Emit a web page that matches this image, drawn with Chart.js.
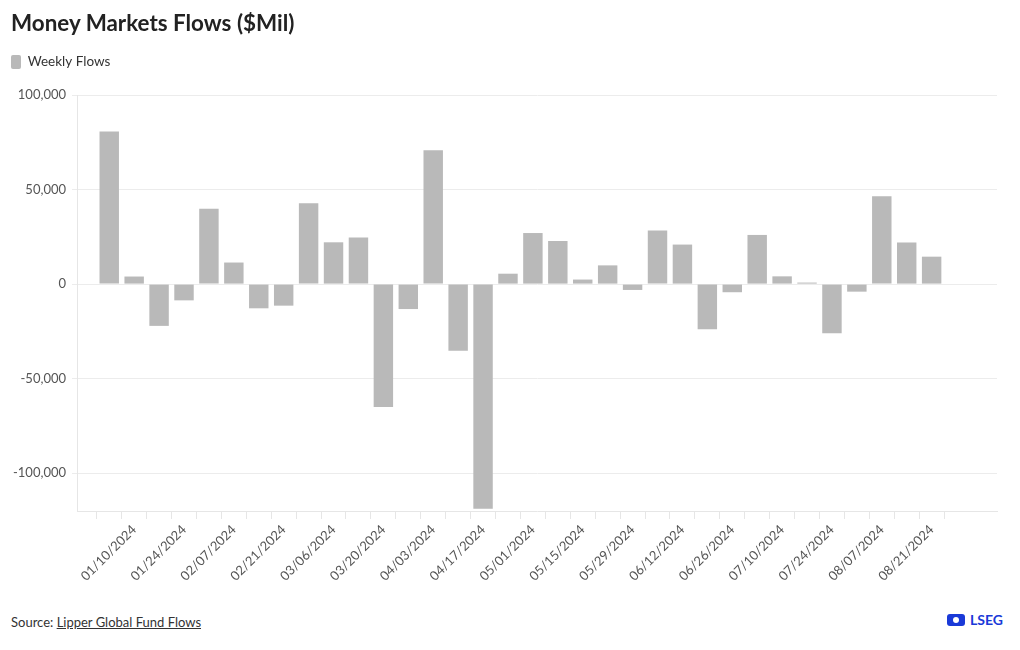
<!DOCTYPE html>
<html>
<head>
<meta charset="utf-8">
<script src="https://cdn.jsdelivr.net/npm/chart.js@4"></script>
<style>
  body { margin: 0; background: #fff; font-family: Lato, "Open Sans", sans-serif; color: #333; }
  #wrap { position: absolute; left: 0; top: 0; width: 1020px; height: 600px; }
  #title { position: absolute; left: 11px; top: 9px; font-size: 22.4px; font-weight: 700; color: #222; }
  #source { position: absolute; left: 11px; top: 614px; font-size: 13px; color: #333; }
  #source a { color: #333; text-decoration: underline; }
  #logo { position: absolute; left: 946px; top: 611px; font-size: 14px; font-weight: 700; color: #1a3ad8; display: flex; align-items: center; gap: 4px; }
</style>
</head>
<body>
<div id="wrap"><canvas id="flowsChart"></canvas></div>
<div id="title">Money Markets Flows ($Mil)</div>
<div id="source">Source: <a>Lipper Global Fund Flows</a></div>
<div id="logo"><svg width="20" height="14" viewBox="0 0 20 14"><rect x="1" y="1" width="18" height="12" rx="3" fill="#1a3ad8"/><circle cx="10" cy="7" r="3" fill="#fff"/></svg>LSEG</div>
<script>
const weeks = [
  "01/03/2024", "01/10/2024", "01/17/2024", "01/24/2024", "01/31/2024", "02/07/2024",
  "02/14/2024", "02/21/2024", "02/28/2024", "03/06/2024", "03/13/2024", "03/20/2024",
  "03/27/2024", "04/03/2024", "04/10/2024", "04/17/2024", "04/24/2024", "05/01/2024",
  "05/08/2024", "05/15/2024", "05/22/2024", "05/29/2024", "06/05/2024", "06/12/2024",
  "06/19/2024", "06/26/2024", "07/03/2024", "07/10/2024", "07/17/2024", "07/24/2024",
  "07/31/2024", "08/07/2024", "08/14/2024", "08/21/2024"
];
const weeklyFlows = [
  80700, 4000, -22100, -8600, 39900, 11400,
  -12800, -11400, 42700, 22100, 24600, -65000,
  -13200, 70800, -35300, -118800, 5500, 27000,
  22800, 2400, 9900, -3100, 28300, 20900,
  -23900, -4300, 26000, 4100, 800, -26000,
  -4000, 46500, 22000, 14500
];
const yTicks = [-100000, -50000, 0, 50000, 100000];

const points = weeklyFlows.map((v, i) => ({ x: i, y: v }));

// extra space under the legend
const legendGap = {
  id: "legendGap",
  beforeInit(chart) {
    const fit = chart.legend.fit;
    chart.legend.fit = function () {
      fit.bind(chart.legend)();
      this.height += 16;
    };
  }
};

new Chart(document.getElementById("flowsChart"), {
  type: "bar",
  data: {
    datasets: [{
      label: "Weekly Flows",
      data: points,
      backgroundColor: "#b9b9b9",
      borderWidth: 0,
      barPercentage: 0.78,
      categoryPercentage: 1
    }]
  },
  options: {
    responsive: true,
    maintainAspectRatio: false,
    animation: false,
    layout: { padding: { top: 45, right: 23, bottom: 13, left: 1 } },
    plugins: {
      legend: {
        position: "top",
        align: "start",
        labels: {
          boxWidth: 10,
          boxHeight: 14,
          padding: 10,
          useBorderRadius: true,
          borderRadius: 2,
          color: "#333",
          font: { family: "Lato", size: 13.5 }
        }
      },
      tooltip: { enabled: false }
    },
    scales: {
      x: {
        type: "linear",
        min: -0.75,
        max: 35.08,
        afterBuildTicks: (scale) => {
          scale.ticks = weeks.map((w, i) => ({ value: i }));
        },
        ticks: {
          autoSkip: false,
          maxRotation: 45,
          minRotation: 45,
          color: "#555",
          font: { family: "Lato", size: 13 },
          callback: (value) => (value % 2 === 1 ? weeks[value] : "")
        },
        grid: { drawOnChartArea: false, drawTicks: true, tickLength: 8, color: "#e6e6e6" },
        border: { color: "#e6e6e6" }
      },
      y: {
        min: -120000,
        max: 100000,
        afterBuildTicks: (scale) => {
          scale.ticks = yTicks.map(v => ({ value: v }));
        },
        afterFit: (scale) => {
          scale.width += 6;
        },
        ticks: {
          color: "#555",
          padding: 6,
          font: { family: "Lato", size: 13 },
          callback: (value) => value.toLocaleString("en-US")
        },
        grid: { color: "#ececec", tickLength: 5 },
        border: { color: "#e6e6e6" }
      }
    }
  },
  plugins: [legendGap]
});
</script>
</body>
</html>
